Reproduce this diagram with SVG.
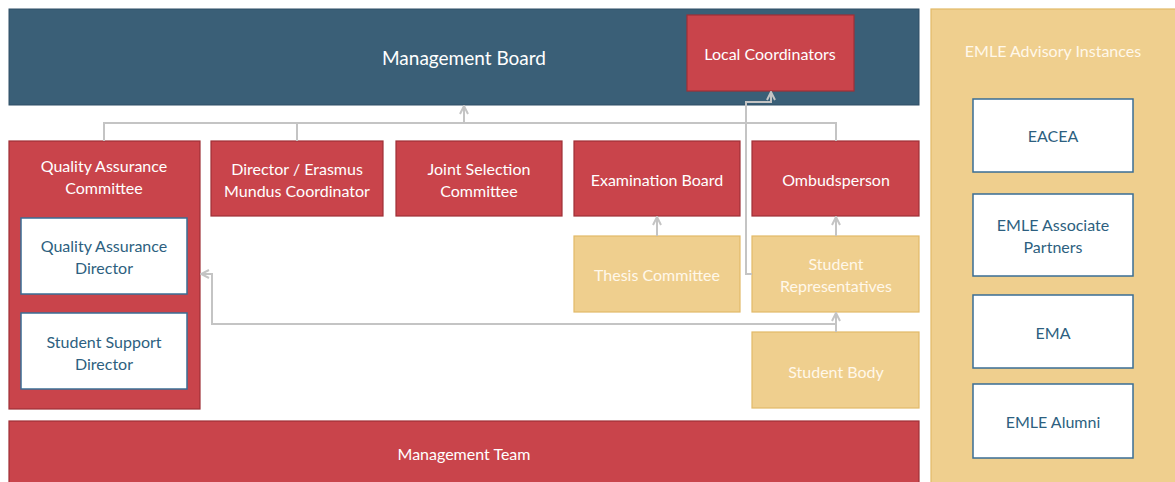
<svg xmlns="http://www.w3.org/2000/svg" width="1175" height="482" viewBox="0 0 1175 482">
  <style>
    text { font-family: Lato, "Open Sans", "Liberation Sans", sans-serif; text-anchor: middle; dominant-baseline: central; }
    .board { fill: #3a5f77; stroke: #2f4f66; stroke-width: 1; }
    .red { fill: #c9444b; stroke: #9f2f36; stroke-width: 1.2; }
    .gold { fill: #efcf8e; stroke: #e2b968; stroke-width: 1.2; }
    .white { fill: #ffffff; stroke: #3a6e95; stroke-width: 1.5; }
    .t-light { fill: #ffffff; font-size: 16px; }
    .t-big { fill: #ffffff; font-size: 19px; }
    .t-gold { fill: #fff8ea; font-size: 16px; }
    .t-blue { fill: #2d5f80; font-size: 16px; }
    .conn { fill: none; stroke: #c4c4c4; stroke-width: 2; }
  </style>
  <defs>
    <marker id="arrow" viewBox="0 0 10 10" refX="8" refY="5" markerWidth="5" markerHeight="5" orient="auto">
      <path d="M1,1 L9,5 L1,9" fill="none" stroke="#c4c4c4" stroke-width="2"/>
    </marker>
  </defs>

  <rect width="1175" height="482" fill="#ffffff"/>

  <g id="management-board">
    <rect class="board" x="9" y="9" width="910" height="96"/>
    <text class="t-big" x="464" y="57">Management Board</text>
  </g>

  <g id="local-coordinators">
    <rect class="red" x="687" y="15" width="167" height="76"/>
    <text class="t-light" x="770" y="53">Local Coordinators</text>
  </g>

  <g id="advisory-instances">
    <rect class="gold" x="931" y="9" width="250" height="480"/>
    <text class="t-gold" x="1053" y="50">EMLE Advisory Instances</text>
  </g>

  <g id="eacea">
    <rect class="white" x="973" y="99" width="160" height="73"/>
    <text class="t-blue" x="1053" y="135">EACEA</text>
  </g>

  <g id="associate-partners">
    <rect class="white" x="973" y="194" width="160" height="82"/>
    <text class="t-blue" x="1053" y="224">EMLE Associate</text>
    <text class="t-blue" x="1053" y="246">Partners</text>
  </g>

  <g id="ema">
    <rect class="white" x="973" y="295" width="160" height="73"/>
    <text class="t-blue" x="1053" y="332">EMA</text>
  </g>

  <g id="alumni">
    <rect class="white" x="973" y="384" width="160" height="74"/>
    <text class="t-blue" x="1053" y="421">EMLE Alumni</text>
  </g>

  <g id="qa-committee">
    <rect class="red" x="9" y="141" width="191" height="268"/>
    <text class="t-light" x="104" y="165">Quality Assurance</text>
    <text class="t-light" x="104" y="187">Committee</text>
  </g>

  <g id="qa-director">
    <rect class="white" x="21" y="218" width="166" height="76"/>
    <text class="t-blue" x="104" y="245">Quality Assurance</text>
    <text class="t-blue" x="104" y="267">Director</text>
  </g>

  <g id="student-support-director">
    <rect class="white" x="21" y="313" width="166" height="76"/>
    <text class="t-blue" x="104" y="341">Student Support</text>
    <text class="t-blue" x="104" y="363">Director</text>
  </g>

  <g id="director">
    <rect class="red" x="211" y="141" width="172" height="75"/>
    <text class="t-light" x="297" y="168">Director / Erasmus</text>
    <text class="t-light" x="297" y="190">Mundus Coordinator</text>
  </g>

  <g id="joint-selection">
    <rect class="red" x="396" y="141" width="166" height="75"/>
    <text class="t-light" x="479" y="168">Joint Selection</text>
    <text class="t-light" x="479" y="190">Committee</text>
  </g>

  <g id="examination-board">
    <rect class="red" x="574" y="141" width="166" height="75"/>
    <text class="t-light" x="657" y="179">Examination Board</text>
  </g>

  <g id="ombudsperson">
    <rect class="red" x="752" y="141" width="167" height="75"/>
    <text class="t-light" x="836" y="179">Ombudsperson</text>
  </g>

  <g id="thesis-committee">
    <rect class="gold" x="574" y="236" width="166" height="76"/>
    <text class="t-gold" x="657" y="274">Thesis Committee</text>
  </g>

  <g id="student-representatives">
    <rect class="gold" x="752" y="236" width="167" height="76"/>
    <text class="t-gold" x="836" y="263">Student</text>
    <text class="t-gold" x="836" y="285">Representatives</text>
  </g>

  <g id="student-body">
    <rect class="gold" x="752" y="332" width="167" height="76"/>
    <text class="t-gold" x="836" y="371">Student Body</text>
  </g>

  <g id="management-team">
    <rect class="red" x="9" y="421" width="910" height="70"/>
    <text class="t-light" x="464" y="453">Management Team</text>
  </g>

  <g id="connectors">
    <!-- bus from the committees up to the board -->
    <polyline class="conn" points="104,141 104,123 836,123 836,141"/>
    <line class="conn" x1="297" y1="141" x2="297" y2="123"/>
    <line class="conn" x1="464" y1="123" x2="464" y2="107" marker-end="url(#arrow)"/>
    <!-- student representatives to local coordinators -->
    <polyline class="conn" points="752,274 746,274 746,102 771,102 771,93" marker-end="url(#arrow)"/>
    <!-- thesis committee to examination board -->
    <line class="conn" x1="657" y1="236" x2="657" y2="218" marker-end="url(#arrow)"/>
    <!-- student representatives to ombudsperson -->
    <line class="conn" x1="836" y1="236" x2="836" y2="218" marker-end="url(#arrow)"/>
    <!-- student body to student representatives -->
    <line class="conn" x1="836" y1="332" x2="836" y2="314" marker-end="url(#arrow)"/>
    <!-- student body to quality assurance committee -->
    <polyline class="conn" points="836,324 212,324 212,274 202,274" marker-end="url(#arrow)"/>
  </g>
</svg>
